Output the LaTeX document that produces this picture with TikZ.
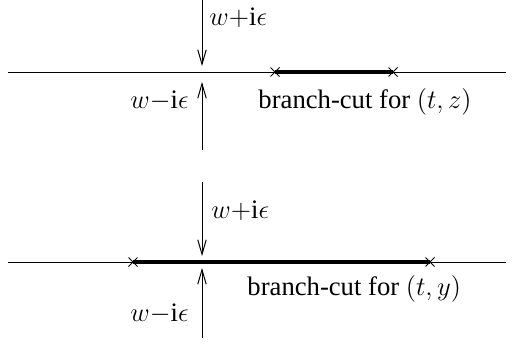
\documentclass[12pt,tikz,border=0pt]{standalone}
\usepackage{fontspec}
\setmainfont{Liberation Serif}
\usepackage{tikz}
\usetikzlibrary{positioning, shapes.misc, arrows.meta}

\begin{document}
\begin{tikzpicture}[
			x=0.45pt, y=-0.45pt,
			axis/.style={line width=0.45pt},
			cut/.style={line width=2pt},
			ends/.style={
				cross out,
				draw,
				line width=0.45pt,
				minimum size=3.6pt,
				inner sep=0pt
			},
			approach/.style={
				line width=0.45pt,
				-{Straight Barb[length=6.5pt, width=3.8pt]}
			},
			lbl/.style={inner sep=0pt}
			]
			\useasboundingbox (0,0) rectangle (514,344);
			
			% upper plane: (t,z)
			\coordinate (zL) at (8,72);
			\coordinate (zR) at (506,72);
			\draw[axis] (zL) -- (zR);
			\node[ends] (z1) at (275,72) {};
			\node[ends] (z2) at (393,72) {};
			\draw[cut] (z1.center) -- (z2.center);
			
			\coordinate (zAtop) at (202,0);
			\coordinate (zAtip) at (202,66);
			\coordinate (zBbot) at (202,150);
			\coordinate (zBtip) at (202,82);
			\draw[approach] (zAtop) -- (zAtip);
			\draw[approach] (zBbot) -- (zBtip);
			
			\node[lbl, anchor=west] (zplus) at (209,18) {$w{+}\mathrm{i}\epsilon$};
			\node[lbl, anchor=east] (zminus) at (189,101) {$w{-}\mathrm{i}\epsilon$};
			\node[lbl, anchor=west] (zcut) at (258,102) {branch-cut for $(t,z)$};
			
			% lower plane: (t,y)
			\coordinate (yL) at (8,262);
			\coordinate (yR) at (506,262);
			\draw[axis] (yL) -- (yR);
			\node[ends] (y1) at (133,262) {};
			\node[ends] (y2) at (430,262) {};
			\draw[cut] (y1.center) -- (y2.center);
			
			\coordinate (yAtop) at (202,182);
			\coordinate (yAtip) at (202,256);
			\coordinate (yBbot) at (202,338);
			\coordinate (yBtip) at (202,268);
			\draw[approach] (yAtop) -- (yAtip);
			\draw[approach] (yBbot) -- (yBtip);
			
			\node[lbl, anchor=west] (yplus) at (211,211) {$w{+}\mathrm{i}\epsilon$};
			\node[lbl, anchor=east] (yminus) at (189,314) {$w{-}\mathrm{i}\epsilon$};
			\node[lbl, anchor=west] (ycut) at (247,289) {branch-cut for $(t,y)$};
			
		\end{tikzpicture}
\end{document}
